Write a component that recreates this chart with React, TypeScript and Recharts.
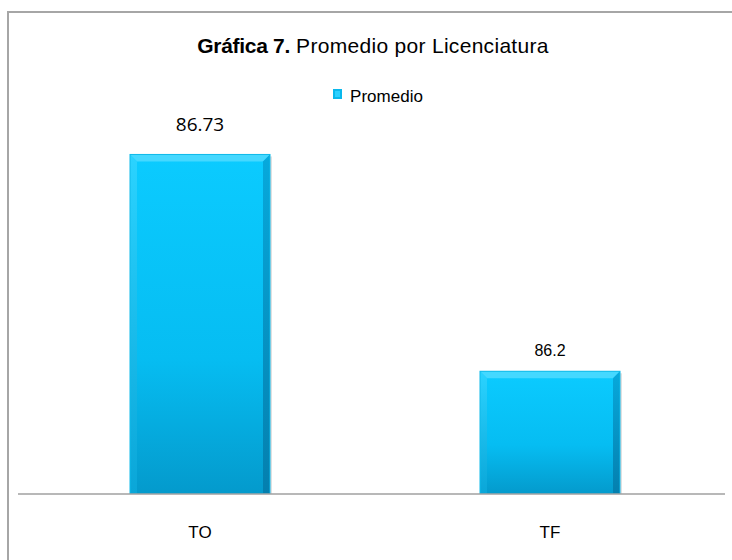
import { BarChart, Bar, XAxis, YAxis, LabelList } from 'recharts';

const categories = ['TO', 'TF'];
const promedio = [86.73, 86.2];
const valueLabels = ['86.73', '86.2'];
const yDomain = [85.9, 87.0];

const chartData = categories.map((name, i) => ({ name, promedio: promedio[i], label: valueLabels[i] }));

// Excel-style bevelled bar
const BevelBar = (props: any) => {
  const { x, y, width, height } = props;
  if (!height || height <= 0) return null;
  const b = Math.min(7, width / 4, height / 4);
  return (
    <g>
      <rect x={x + 2} y={y + 2} width={width} height={height - 2} fill="rgba(0,0,0,0.12)" />
      <rect x={x} y={y} width={width} height={height} fill="url(#barFace)" />
      <polygon points={`${x},${y} ${x + width},${y} ${x + width - b},${y + b} ${x + b},${y + b}`} fill="#45D8FF" />
      <polygon points={`${x},${y} ${x + b},${y + b} ${x + b},${y + height} ${x},${y + height}`} fill="url(#barLeft)" />
      <polygon points={`${x + width},${y} ${x + width - b},${y + b} ${x + width - b},${y + height} ${x + width},${y + height}`} fill="url(#barRight)" />
      <rect x={x} y={y} width={width} height={height} fill="none" stroke="#0FB9EA" strokeWidth={1} />
    </g>
  );
};

// the two value labels use different fonts in the original
const ValueLabel = (props: any) => {
  const { x, y, width, value, index } = props;
  const first = index === 0;
  return (
    <text
      x={x + width / 2}
      y={y - (first ? 23 : 15)}
      textAnchor="middle"
      fill="#000"
      fontSize={first ? 19 : 16}
      fontFamily={first ? '"Open Sans", sans-serif' : '"Liberation Sans", Arial, sans-serif'}
    >
      {value}
    </text>
  );
};

const App = () => {
  return (
    <div style={{ position: 'absolute', left: 0, top: 0, width: 732, height: 560, background: '#fff' }}>
      <div style={{ position: 'absolute', left: 7, top: 11, right: 0, bottom: 0, borderTop: '2px solid #A6A6A6', borderLeft: '2px solid #A6A6A6' }} />
      <div style={{ position: 'absolute', left: 0, width: 746, top: 34, textAlign: 'center', fontFamily: '"Liberation Sans", Arial, sans-serif', fontSize: 21, color: '#000', whiteSpace: 'nowrap' }}>
        <span style={{ fontWeight: 'bold', letterSpacing: -0.3 }}>Gráfica 7.</span>
        <span style={{ letterSpacing: 0.3 }}> Promedio por Licenciatura</span>
      </div>
      <div style={{ position: 'absolute', left: 0, width: 756, top: 87, display: 'flex', justifyContent: 'center', alignItems: 'center', fontFamily: '"Liberation Sans", Arial, sans-serif', fontSize: 17, color: '#000' }}>
        <svg width={9} height={10} style={{ marginRight: 8, marginTop: -6 }}>
          <rect x={0} y={0} width={9} height={10} fill="#0AB8EC" />
          <rect x={2} y={2} width={5} height={6} fill="#2CD0FF" />
        </svg>
        <span>Promedio</span>
      </div>
      <div style={{ position: 'absolute', left: 0, top: 0 }}>
        <BarChart width={732} height={560} data={chartData} margin={{ top: 44, right: 7, bottom: 0, left: 18 }} barCategoryGap="30%">
          <defs>
            <linearGradient id="barFace" x1="0" y1="0" x2="0" y2="1">
              <stop offset="0%" stopColor="#0BCBFF" />
              <stop offset="60%" stopColor="#06BDF2" />
              <stop offset="100%" stopColor="#049ACC" />
            </linearGradient>
            <linearGradient id="barLeft" x1="0" y1="0" x2="0" y2="1">
              <stop offset="0%" stopColor="#2BD3FF" />
              <stop offset="100%" stopColor="#0AA6D8" />
            </linearGradient>
            <linearGradient id="barRight" x1="0" y1="0" x2="0" y2="1">
              <stop offset="0%" stopColor="#07A9DC" />
              <stop offset="100%" stopColor="#047FAE" />
            </linearGradient>
          </defs>
          <XAxis
            dataKey="name"
            height={66}
            axisLine={{ stroke: '#A0A0A0', strokeWidth: 1.5 }}
            tickLine={false}
            tickMargin={26}
            padding={{ left: 7, right: 0 }}
            tick={{ fill: '#000', fontSize: 17, fontFamily: '"Liberation Sans", Arial, sans-serif' }}
          />
          <YAxis hide domain={yDomain} allowDataOverflow />
          <Bar dataKey="promedio" shape={BevelBar} isAnimationActive={false}>
            <LabelList dataKey="label" content={ValueLabel} />
          </Bar>
        </BarChart>
      </div>
    </div>
  );
};

export default App;
